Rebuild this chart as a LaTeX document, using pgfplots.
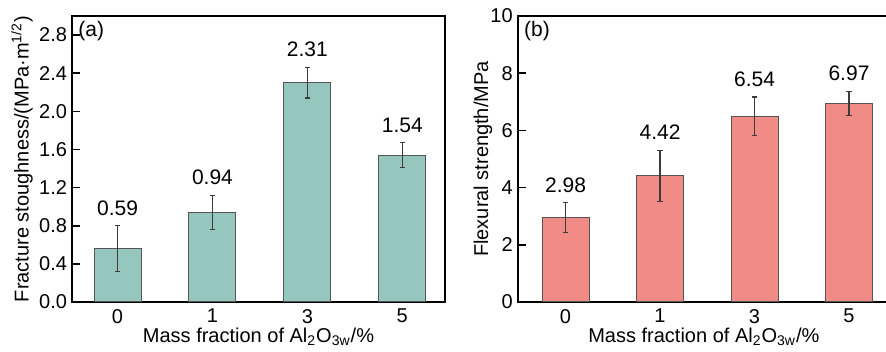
\documentclass[border=0pt]{standalone}
\usepackage{pgfplots}
\pgfplotsset{compat=1.18}
\usepackage{pgfplotstable}
\usepackage{fontspec}
\setmainfont{Liberation Sans}
\definecolor{tealbar}{RGB}{150,199,191}
\definecolor{salmonbar}{RGB}{241,139,133}
\definecolor{edgegray}{RGB}{85,85,85}
\definecolor{errgray}{RGB}{60,60,60}

\pgfplotstableread{
x y e lab
0 0.56 0.24 0.59
1 0.94 0.18 0.94
2 2.30 0.16 2.31
3 1.54 0.13 1.54
}\tableA
\pgfplotstableread{
x y e lab
0 2.95 0.52 2.98
1 4.41 0.90 4.42
2 6.50 0.67 6.54
3 6.95 0.42 6.97
}\tableB

\pgfplotsset{
  panel/.style={
    scale only axis,
    anchor=south west,
    height=143pt,
    axis line style={line width=1pt},
    tick align=inside,
    major tick length=4pt,
    tick style={line width=0.8pt, black},
    xtick pos=bottom, ytick pos=left,
    xtick={0,1,2,3}, xticklabels={0,1,3,5},
    /pgf/number format/assume math mode=true,
    tick label style={font=\fontsize{10}{12}\selectfont},
    yticklabel style={xshift=1pt},
    label style={font=\fontsize{10.5}{12.5}\selectfont},
    every axis x label/.style={at={(axis description cs:0.5,0)}, yshift=-17.5pt, anchor=center},
    xlabel={Mass fraction of Al\textsubscript{2}O\textsubscript{3w}/\%},
    clip=false,
  },
  valbars/.style={ybar, bar width=23.5pt, draw=edgegray, line width=0.5pt,
    error bars/y dir=both, error bars/y explicit,
    error bars/error bar style={line width=0.6pt, color=errgray},
    error bars/error mark options={rotate=90, mark size=1.3pt, line width=0.6pt, color=errgray}},
  vallabels/.style={draw=none, mark=none, nodes near coords, point meta=explicit symbolic,
    every node near coord/.style={anchor=south, inner sep=0pt, yshift=5pt, text=black,
      font=\fontsize{10.5}{12.5}\selectfont}},
}

\begin{document}
\begin{tikzpicture}
\begin{axis}[panel,
  at={(36pt,25pt)},
  width=186.5pt,
  xmin=-0.48, xmax=3.45,
  ymin=0, ymax=3.0,
  ytick={0,0.4,...,2.81},
  yticklabel style={/pgf/number format/.cd, fixed, fixed zerofill, precision=1},
  every axis y label/.style={at={(axis description cs:0,0.5)}, xshift=-25pt, rotate=90, anchor=center},
  ylabel={Fracture stoughness/(MPa·m\textsuperscript{1/2})},
]
\addplot[fill=tealbar, valbars] table[x=x, y=y, y error=e] {\tableA};
\addplot[vallabels] table[x=x, y expr=\thisrow{y}+\thisrow{e}, meta=lab] {\tableA};
\node[anchor=west, inner sep=0pt, font=\fontsize{10.5}{12.5}\selectfont] at ([xshift=3pt, yshift=-7.5pt]rel axis cs:0,1) {(a)};
\end{axis}

\begin{axis}[panel,
  at={(258.85pt,25pt)},
  width=186.15pt,
  xmin=-0.506, xmax=3.434,
  ymin=0, ymax=10,
  ytick={0,2,...,10},
  every axis y label/.style={at={(axis description cs:0,0.5)}, xshift=-17.4pt, rotate=90, anchor=center},
  ylabel={Flexural strength/MPa},
]
\addplot[fill=salmonbar, valbars] table[x=x, y=y, y error=e] {\tableB};
\addplot[vallabels] table[x=x, y expr=\thisrow{y}+\thisrow{e}, meta=lab] {\tableB};
\node[anchor=west, inner sep=0pt, font=\fontsize{10.5}{12.5}\selectfont] at ([xshift=3pt, yshift=-7.5pt]rel axis cs:0,1) {(b)};
\end{axis}
\pgfresetboundingbox
\path[use as bounding box] (0,0) rectangle (443pt,176pt);
\end{tikzpicture}
\end{document}
